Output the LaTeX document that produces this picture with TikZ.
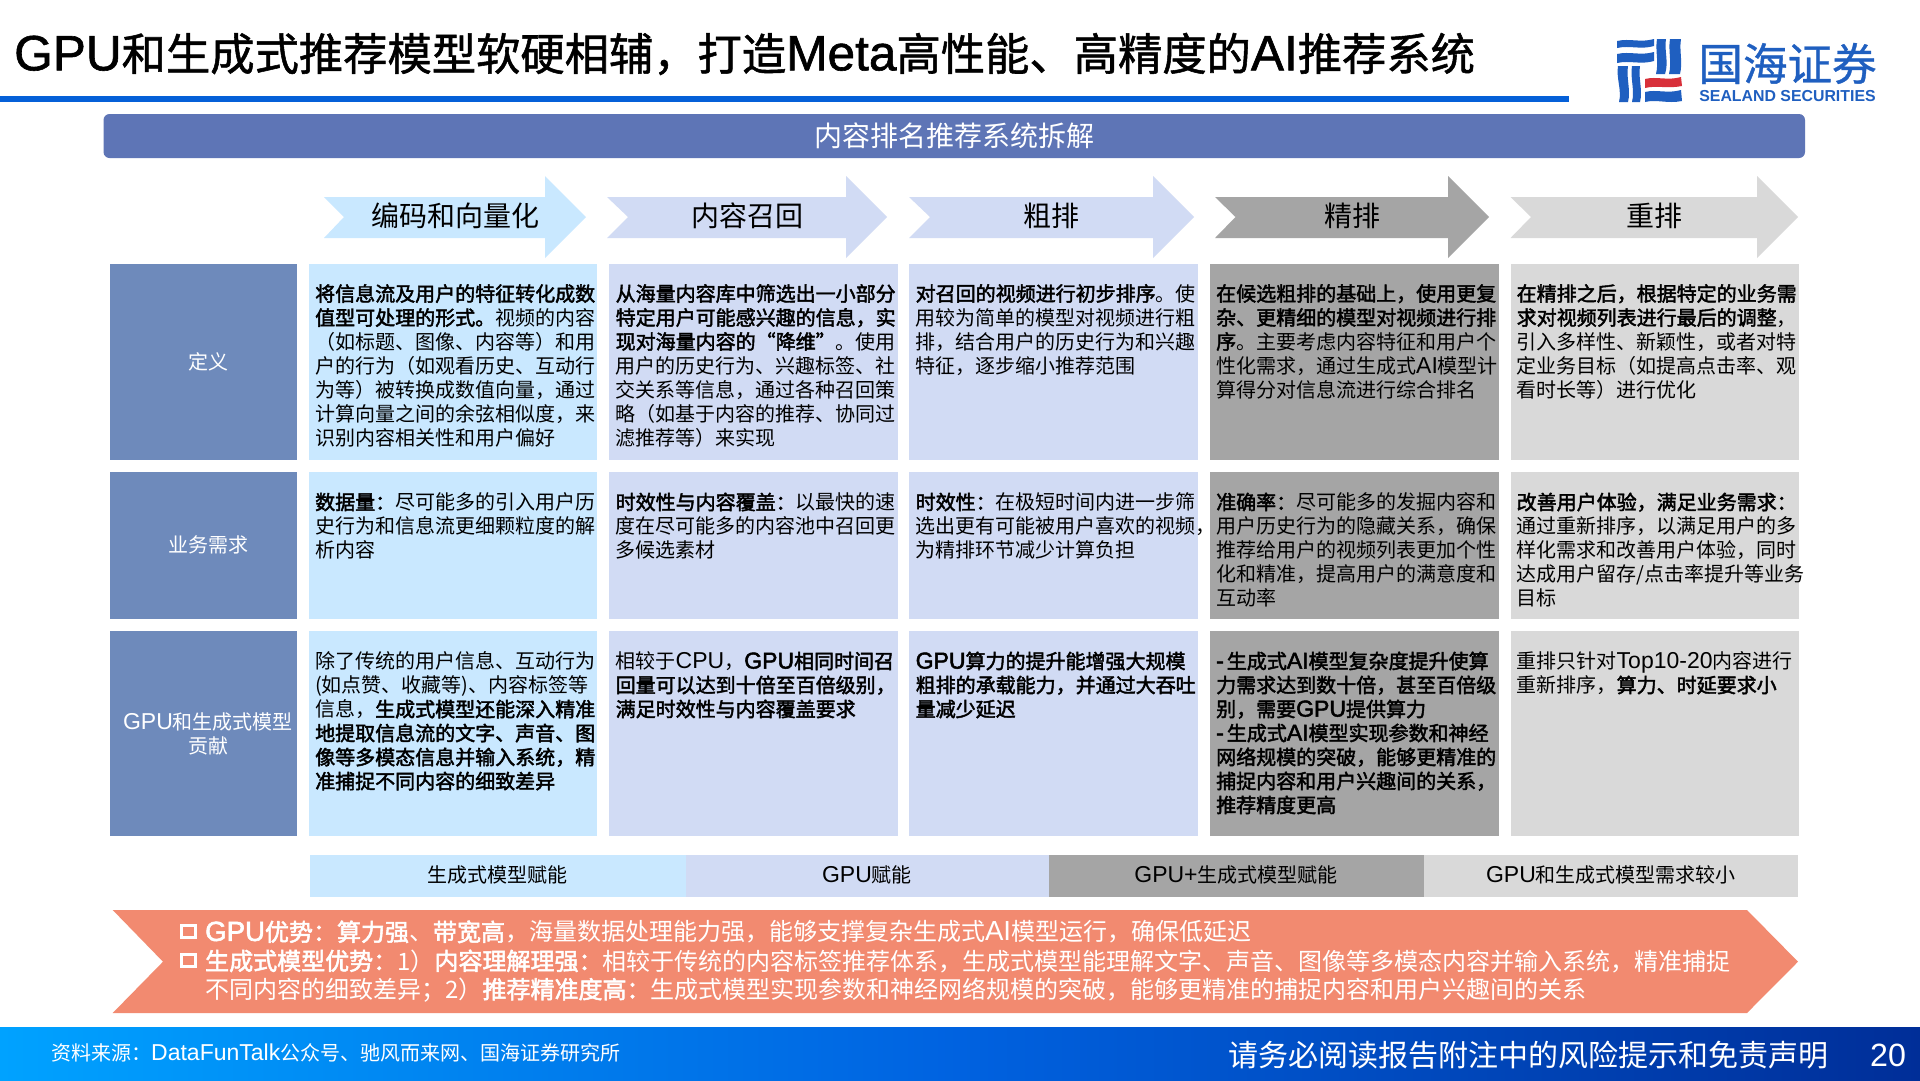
\documentclass[tikz,border=0pt]{standalone}
\usepackage{fontspec}
\setmainfont{Noto Sans CJK SC}[BoldFont={Noto Sans CJK SC},BoldFeatures={FakeBold=2.2}]
\newfontfamily\latfont[Scale=1.15,BoldFont={Liberation Sans},BoldFeatures={FakeBold=2.2}]{Liberation Sans}
\newfontfamily\logolat[Scale=1.15]{Liberation Sans}
\newfontfamily\titlefont[FakeBold=1.2]{Noto Sans CJK SC}
\newfontfamily\titlelat[Scale=1.12,FakeBold=1.2]{Liberation Sans}
\newfontfamily\logofont[FakeBold=0.8]{Noto Sans CJK SC}
\newcommand\la[1]{{\latfont #1}}
\newcommand\lt[1]{{\titlelat #1}}
\newcommand\bo[1]{\textbf{#1}}
\newcommand\fs[2]{\fontsize{#1}{#2}\selectfont}
\definecolor{cblue}{HTML}{C9E8FF}
\definecolor{cperi}{HTML}{D1DBF4}
\definecolor{cdark}{HTML}{A5A5A5}
\definecolor{clight}{HTML}{D9D9D9}
\definecolor{clabel}{HTML}{6E8ABB}
\definecolor{cband}{HTML}{5E75B6}
\definecolor{csalmon}{HTML}{F28A70}
\definecolor{cline}{HTML}{0560D8}
\definecolor{clogo}{HTML}{1F5FC0}
\definecolor{clogored}{HTML}{D8303A}
\definecolor{cfootL}{HTML}{00A2FF}
\definecolor{cfootM}{HTML}{0062E0}
\definecolor{cfootR}{HTML}{002E98}
\tikzset{
  x=1pt,y=-1pt,
  celltext/.style={anchor=north west,inner sep=0pt,align=left,text=black,font=\fs{20}{24}},
  labeltext/.style={inner sep=0pt,align=center,text=white,font=\fs{20}{24}},
  arrowtext/.style={inner sep=0pt,text=black,font=\fs{28}{32}},
  legendtext/.style={inner sep=0pt,text=black,font=\fs{20}{24}},
  salmontext/.style={anchor=west,inner sep=0pt,text=white,font=\fs{24}{28}},
}
\begin{document}
\begin{tikzpicture}
\useasboundingbox (0,0) rectangle (1920,1080);
\fill[white] (0,0) rectangle (1920,1080);

% title
\node[anchor=west,inner sep=0pt,font=\titlefont\fs{44.3}{50}] (title) at (14,54) {\lt{GPU}和生成式推荐模型软硬相辅，打造\lt{Meta}高性能、高精度的\lt{AI}推荐系统};
\fill[cline] (0,96) rectangle (1569,102);

% logo
\begin{scope}[clogo]
\fill (1617,41) .. controls (1630,38) and (1640,43) .. (1654,39) -- (1654,46) .. controls (1640,50) and (1630,45) .. (1617,48) -- cycle;
\fill (1617,54) .. controls (1630,51) and (1640,56) .. (1654,52) -- (1654,61) .. controls (1640,65) and (1630,60) .. (1617,63) -- cycle;
\fill (1618,66) -- (1628,66) .. controls (1626,78) and (1631,90) .. (1628,102) -- (1619,102) .. controls (1622,90) and (1616,78) .. (1618,66) -- cycle;
\fill (1632,66) -- (1640,66) .. controls (1638,78) and (1643,90) .. (1640,102) -- (1632,102) .. controls (1635,90) and (1630,78) .. (1632,66) -- cycle;
\fill (1657,39) -- (1666,39) .. controls (1664,50) and (1669,62) .. (1665,74) -- (1656,74) .. controls (1659,62) and (1655,50) .. (1657,39) -- cycle;
\fill (1670,39) -- (1681,39) .. controls (1679,50) and (1683,62) .. (1680,74) -- (1669,74) .. controls (1672,62) and (1668,50) .. (1670,39) -- cycle;
\fill (1645,92) .. controls (1657,89) and (1667,94) .. (1681,90) -- (1682,101) .. controls (1667,104) and (1657,99) .. (1645,102) -- cycle;
\end{scope}
\fill[clogored] (1645,79) .. controls (1657,76) and (1667,81) .. (1681,77) -- (1682,86) .. controls (1667,89) and (1657,85) .. (1645,88) -- cycle;
\node[inner sep=0pt,text=clogo,font=\logofont\fs{44.5}{48}] (logocn) at (1787.5,63.5) {国海证券};
\node[inner sep=0pt,text=clogo,font=\logolat\bfseries\fs{13.8}{20}] (logoen) at (1787.5,96) {SEALAND SECURITIES};

% band
\fill[cband,rounded corners=6pt] (103.5,114) rectangle (1805,158);
\node[inner sep=0pt,text=white,font=\fs{28}{32}] (band) at (954,136) {内容排名推荐系统拆解};

% arrows
\fill[cblue] (324,197) -- (545,197) -- (545,176) -- (586,217) -- (545,258) -- (545,238) -- (324,238) -- (344,217) -- cycle;
\fill[cperi] (607,197) -- (846,197) -- (846,176) -- (887,217) -- (846,258) -- (846,238) -- (607,238) -- (628,217) -- cycle;
\fill[cperi] (909,197) -- (1153,197) -- (1153,176) -- (1194,217) -- (1153,258) -- (1153,238) -- (909,238) -- (930,217) -- cycle;
\fill[cdark] (1215,197) -- (1448,197) -- (1448,176) -- (1489,217) -- (1448,258) -- (1448,238) -- (1215,238) -- (1235.5,217) -- cycle;
\fill[clight] (1510.5,197) -- (1757,197) -- (1757,176) -- (1798,217) -- (1757,258) -- (1757,238) -- (1510.5,238) -- (1531,217) -- cycle;
\node[arrowtext] (a1) at (455.6,216) {编码和向量化};
\node[arrowtext] (a2) at (747.7,216) {内容召回};
\node[arrowtext] (a3) at (1051,216) {粗排};
\node[arrowtext] (a4) at (1352.5,216) {精排};
\node[arrowtext] (a5) at (1654,216) {重排};

% table backgrounds
\fill[clabel] (109.6,263.5) rectangle (297,460);
\fill[clabel] (109.6,472) rectangle (297,619);
\fill[clabel] (109.6,631) rectangle (297,836);
\fill[cblue] (309,263.5) rectangle (597,460);
\fill[cblue] (309,472) rectangle (597,619);
\fill[cblue] (309,631) rectangle (597,836);
\fill[cperi] (609,263.5) rectangle (898,460);
\fill[cperi] (609,472) rectangle (898,619);
\fill[cperi] (609,631) rectangle (898,836);
\fill[cperi] (909,263.5) rectangle (1198,460);
\fill[cperi] (909,472) rectangle (1198,619);
\fill[cperi] (909,631) rectangle (1198,836);
\fill[cdark] (1210,263.5) rectangle (1499,460);
\fill[cdark] (1210,472) rectangle (1499,619);
\fill[cdark] (1210,631) rectangle (1499,836);
\fill[clight] (1510.5,263.5) rectangle (1799,460);
\fill[clight] (1510.5,472) rectangle (1799,619);
\fill[clight] (1510.5,631) rectangle (1799,836);

% row labels
\node[labeltext] (l1) at (208,362) {定义};
\node[labeltext] (l2) at (208,545) {业务需求};
\node[labeltext] (l3) at (208,734) {\la{GPU}和生成式模型\\贡献};

% row 1
\node[celltext] (r1c1) at (315,284) {\bo{将信息流及用户的特征转化成数}\\\bo{值型可处理的形式。}视频的内容\\（如标题、图像、内容等）和用\\户的行为（如观看历史、互动行\\为等）被转换成数值向量，通过\\计算向量之间的余弦相似度，来\\识别内容相关性和用户偏好};
\node[celltext] (r1c2) at (615.5,284) {\bo{从海量内容库中筛选出一小部分}\\\bo{特定用户可能感兴趣的信息，实}\\\bo{现对海量内容的“降维”}。使用\\用户的历史行为、兴趣标签、社\\交关系等信息，通过各种召回策\\略（如基于内容的推荐、协同过\\滤推荐等）来实现};
\node[celltext] (r1c3) at (915.5,284) {\bo{对召回的视频进行初步排序}。使\\用较为简单的模型对视频进行粗\\排，结合用户的历史行为和兴趣\\特征，逐步缩小推荐范围};
\node[celltext] (r1c4) at (1216,284) {\bo{在候选粗排的基础上，使用更复}\\\bo{杂、更精细的模型对视频进行排}\\\bo{序}。主要考虑内容特征和用户个\\性化需求，通过生成式\la{AI}模型计\\算得分对信息流进行综合排名};
\node[celltext] (r1c5) at (1516.5,284) {\bo{在精排之后，根据特定的业务需}\\\bo{求对视频列表进行最后的调整}，\\引入多样性、新颖性，或者对特\\定业务目标（如提高点击率、观\\看时长等）进行优化};

% row 2
\node[celltext] (r2c1) at (315,492.5) {\bo{数据量：}尽可能多的引入用户历\\史行为和信息流更细颗粒度的解\\析内容};
\node[celltext] (r2c2) at (615.5,492.5) {\bo{时效性与内容覆盖：}以最快的速\\度在尽可能多的内容池中召回更\\多候选素材};
\node[celltext] (r2c3) at (915.5,492.5) {\bo{时效性：}在极短时间内进一步筛\\选出更有可能被用户喜欢的视频，\\为精排环节减少计算负担};
\node[celltext] (r2c4) at (1216,492.5) {\bo{准确率：}尽可能多的发掘内容和\\用户历史行为的隐藏关系，确保\\推荐给用户的视频列表更加个性\\化和精准，提高用户的满意度和\\互动率};
\node[celltext] (r2c5) at (1516.5,492.5) {\bo{改善用户体验，满足业务需求：}\\通过重新排序，以满足用户的多\\样化需求和改善用户体验，同时\\达成用户留存/点击率提升等业务\\目标};

% row 3
\node[celltext] (r3c1) at (315,651.5) {除了传统的用户信息、互动行为\\(如点赞、收藏等)、内容标签等\\信息，\bo{生成式模型还能深入精准}\\\bo{地提取信息流的文字、声音、图}\\\bo{像等多模态信息并输入系统，精}\\\bo{准捕捉不同内容的细致差异}};
\node[celltext] (r3c2) at (615.5,651.5) {相较于\la{CPU}，\bo{\la{GPU}相同时间召}\\\bo{回量可以达到十倍至百倍级别，}\\\bo{满足时效性与内容覆盖要求}};
\node[celltext] (r3c3) at (915.5,651.5) {\bo{\la{GPU}算力的提升能增强大规模}\\\bo{粗排的承载能力，并通过大吞吐}\\\bo{量减少延迟}};
\node[celltext] (r3c4) at (1216,651.5) {\bo{\la{-}\kern3pt 生成式\la{AI}模型复杂度提升使算}\\\bo{力需求达到数十倍，甚至百倍级}\\\bo{别，需要\la{GPU}提供算力}\\\bo{\la{-}\kern3pt 生成式\la{AI}模型实现参数和神经}\\\bo{网络规模的突破，能够更精准的}\\\bo{捕捉内容和用户兴趣间的关系，}\\\bo{推荐精度更高}};
\node[celltext] (r3c5) at (1516.5,651.5) {重排只针对\la{Top10-20}内容进行\\重新排序，\bo{算力、时延要求小}};

% legend
\fill[cblue] (310,855) rectangle (686,897);
\fill[cperi] (686,855) rectangle (1049,897);
\fill[cdark] (1049,855) rectangle (1424,897);
\fill[clight] (1424,855) rectangle (1798,897);
\node[legendtext] (g1) at (497,875) {生成式模型赋能};
\node[legendtext] (g2) at (867,875) {\la{GPU}赋能};
\node[legendtext] (g3) at (1236,875) {\la{GPU+}生成式模型赋能};
\node[legendtext] (g4) at (1611,875) {\la{GPU}和生成式模型需求较小};

% salmon banner
\fill[csalmon] (112.7,910) -- (1747,910) -- (1798,961.7) -- (1747,1013) -- (112.7,1013) -- (163,961.7) -- cycle;
\draw[white,line width=3pt] (181,925.5) rectangle (195.5,937.5);
\draw[white,line width=3pt] (181,954.5) rectangle (195.5,966.5);
\node[salmontext] (s1) at (205,932) {\bo{\la{GPU}优势：算力强}、\bo{带宽高}，海量数据处理能力强，能够支撑复杂生成式\la{AI}模型运行，确保低延迟};
\node[salmontext] (s2) at (205,961) {\bo{生成式模型优势：}1）\bo{内容理解理强：}相较于传统的内容标签推荐体系，生成式模型能理解文字、声音、图像等多模态内容并输入系统，精准捕捉};
\node[salmontext] (s3) at (205,990) {不同内容的细致差异；2）\bo{推荐精准度高：}生成式模型实现参数和神经网络规模的突破，能够更精准的捕捉内容和用户兴趣间的关系};

% footer
\shade[left color=cfootL,right color=cfootR,middle color=cfootM] (0,1027) rectangle (1920,1080);
\node[anchor=west,inner sep=0pt,text=white,font=\fs{20}{24}] (src) at (51,1053) {资料来源：\la{DataFunTalk}公众号、驰风而来网、国海证券研究所};
\node[anchor=west,inner sep=0pt,text=white,font=\fs{30}{34}] (disc) at (1228,1055) {请务必阅读报告附注中的风险提示和免责声明};
\node[anchor=west,inner sep=0pt,text=white,font=\latfont\fs{28}{36}] (page) at (1870,1055) {20};
\end{tikzpicture}
\end{document}
